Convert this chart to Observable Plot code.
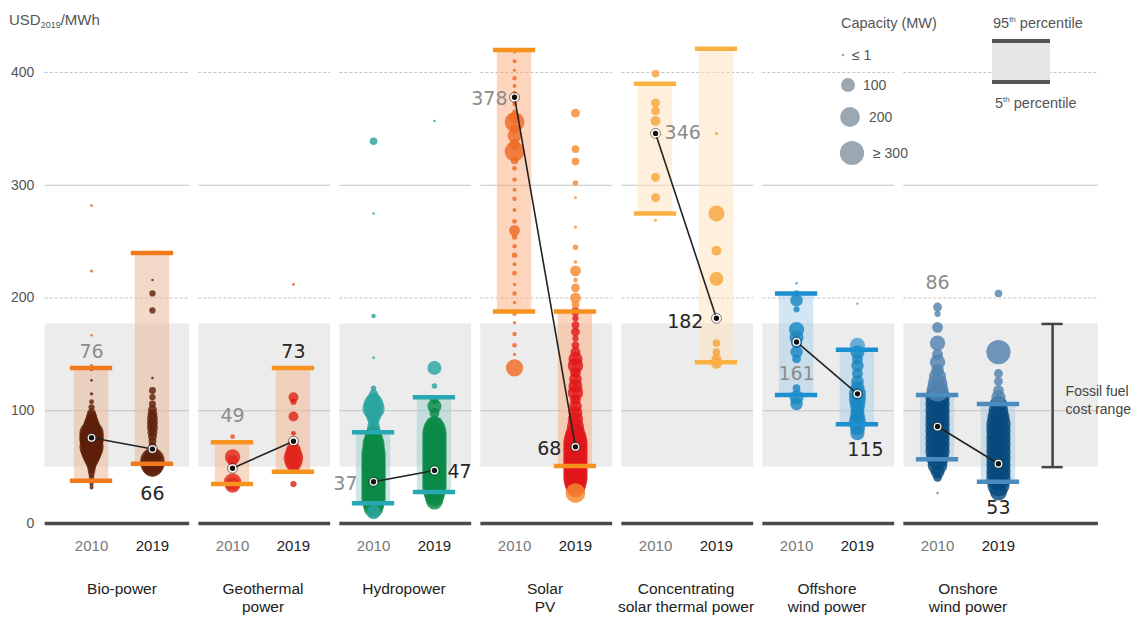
<!DOCTYPE html>
<html><head><meta charset="utf-8">
<script src="https://cdn.jsdelivr.net/npm/d3@7"></script>
<script src="https://cdn.jsdelivr.net/npm/@observablehq/plot@0.6"></script>
<style>body{margin:0;background:#fff;} svg{display:block;}</style>
</head><body><div id="chart"></div><script>
// ---------- DATA ----------
const categories = ["Bio-power", "Geothermal\npower", "Hydropower", "Solar\nPV", "Concentrating\nsolar thermal power", "Offshore\nwind power", "Onshore\nwind power"];
const years = [2010, 2019];
const yTicks = [0, 100, 200, 300, 400];
const median2010 = [76, 49, 37, 378, 346, 161, 86];
const median2019 = [66, 73, 47, 68, 182, 115, 53];
const p5_2010  = [38, 35, 18, 188, 275, 114, 57];
const p95_2010 = [138, 72, 81, 420, 390, 204, 114];
const p5_2019  = [53, 46, 28, 51, 143, 88, 37];
const p95_2019 = [240, 138, 112, 188, 421, 154, 106];
const fossilRange = [50, 177];
const capLegend = [1, 100, 200, 300];
const capLegendLabels = ["≤ 1", "100", "200", "≥ 300"];

// project points: [cost USD/MWh, capacity MW]
const bio2010 = [[282,4],[224,5],[167,3],[140,6],[137,8],[127,4],[115,6],[108,12],[103,20],[98,40],[95,60],[92,80],[89,120],[86,150],[83,200],[80,300],[77,300],[74,300],[71,250],[68,300],[65,250],[62,200],[59,150],[56,100],[53,60],[50,40],[47,30],[44,20],[41,15],[38,12],[35,10],[32,8]];
const bio2019 = [[240,10],[216,3],[204,20],[189,20],[129,4],[118,25],[112,20],[106,25],[101,40],[97,50],[93,60],[89,60],[85,60],[81,50],[77,40],[73,30],[69,30],[65,40],[60,150],[56,300],[53,300],[50,200]];
const geo2010 = [[77,12],[59,120],[56,60],[37,150],[34,120]];
const geo2019 = [[212,4],[112,50],[108,20],[95,50],[80,12],[66,100],[62,150],[58,200],[54,150],[50,60],[35,20]];
const hydro2010 = [[339,30],[275,3],[184,10],[147,4],[120,15],[115,40],[110,100],[106,200],[102,250],[98,150],[94,100],[90,60],[86,80],[82,100],[78,150],[74,200],[70,250],[66,250],[62,300],[58,300],[54,300],[50,300],[46,300],[42,300],[38,300],[34,300],[30,300],[26,300],[22,300],[18,250],[14,200],[10,100]];
const hydro2019 = [[357,3],[138,100],[122,15],[110,40],[104,100],[98,50],[88,150],[84,250],[80,300],[76,300],[72,300],[68,300],[64,300],[60,300],[56,300],[52,300],[48,300],[44,300],[40,300],[36,300],[32,300],[28,250],[24,200],[20,150]];
const solar2010 = [[418,4],[410,8],[402,5],[395,10],[388,8],[382,8],[372,10],[365,12],[360,60],[356,200],[350,40],[344,100],[336,60],[330,200],[322,30],[315,12],[305,10],[296,8],[288,10],[278,8],[268,12],[260,60],[254,15],[246,10],[238,15],[230,8],[222,12],[212,6],[204,10],[196,6],[186,10],[178,6],[168,10],[158,12],[150,6],[138,150]];
const solar2019 = [[364,40],[332,30],[321,30],[302,15],[289,4],[263,5],[245,15],[232,6],[224,60],[216,10],[209,40],[200,60],[194,30],[188,40],[182,20],[176,30],[170,40],[164,20],[158,30],[152,50],[146,100],[140,120],[134,60],[128,80],[122,100],[116,120],[110,60],[104,80],[98,100],[92,120],[86,150],[80,200],[76,250],[72,300],[68,300],[64,300],[60,300],[56,300],[52,300],[48,300],[44,300],[40,300],[36,250],[32,200],[27,200]];
const csp2010 = [[399,30],[373,40],[366,40],[357,50],[307,40],[289,40],[269,5]];
const csp2019 = [[346,5],[275,130],[242,50],[217,100],[160,30],[152,30],[146,50],[142,60]];
const offshore2010 = [[213,4],[204,20],[198,80],[190,20],[172,120],[165,100],[160,60],[152,80],[146,40],[120,30],[112,100],[106,80]];
const offshore2019 = [[195,3],[158,120],[152,100],[146,60],[140,80],[133,60],[126,80],[120,100],[115,150],[110,150],[105,120],[100,100],[95,120],[90,150],[85,120],[80,100]];
const onshore2010 = [[192,40],[186,20],[174,60],[160,120],[150,60],[143,120],[136,80],[130,150],[124,200],[118,250],[112,300],[106,300],[100,300],[94,300],[88,300],[82,300],[76,300],[70,300],[64,300],[58,250],[52,200],[46,100],[41,40],[27,3]];
const onshore2019 = [[204,30],[152,300],[133,40],[126,40],[118,60],[112,100],[106,150],[100,200],[94,250],[88,300],[82,300],[76,300],[70,300],[64,300],[58,300],[52,300],[46,300],[40,300],[34,250],[28,150]];

const points2010 = [bio2010, geo2010, hydro2010, solar2010, csp2010, offshore2010, onshore2010];
const points2019 = [bio2019, geo2019, hydro2019, solar2019, csp2019, offshore2019, onshore2019];

// ---------- STYLES / LAYOUT ----------
const coreColor = {2010: ["#5e200a","#e2281b","#0b8a47","#ee6a25","#f7a53c","#1a86c1","#064b7e"],
                   2019: ["#5e200a","#e2231a","#0b8a47","#e0161b","#f7a53c","#1a86c1","#064b7e"]};
const outerColor = ["#cf6a2e","#e8562a","#2aa3a0","#f58a2e","#f7a53c","#4d9fd2","#5283ae"];
const bandColor = ["#e7b591","#f1b38d","#9fcdcd","#f9ab79","#fde1b9","#a5cde7","#adc9df"];
const barColor = ["#f07a1c","#f7931e","#27a8b2","#f7921e","#fbb042","#1b8fcf","#4a8cc0"];
const OFF = 0.216;
const PX = 141; // pixels per category unit
const xc = (i, yr) => i + (yr === 2010 ? -OFF : OFF);
const panelLeft = i => i === 0 ? -0.545 : i - 0.455;
const panelRight = i => i === 6 ? 6.925 : i + 0.48;
const lab2010 = [{y:152,a:"middle",dx:0},{y:95,a:"middle",dx:0},{y:35,a:"end",dx:-16},{y:377,a:"end",dx:-7},{y:346,a:"start",dx:9},{y:133,a:"middle",dx:0},{y:213,a:"middle",dx:0}];
const lab2019 = [{y:26,a:"middle",dx:0},{y:152,a:"middle",dx:0},{y:46,a:"start",dx:13},{y:66,a:"end",dx:-14},{y:179,a:"end",dx:-13},{y:65,a:"middle",dx:8},{y:14,a:"middle",dx:0}];

// ---------- TABLES ----------
const panels = categories.map((c, i) => ({i, c}));
const stats = [];
categories.forEach((c, i) => {
  stats.push({i, year: 2010, med: median2010[i], p5: p5_2010[i], p95: p95_2010[i], lab: lab2010[i]});
  stats.push({i, year: 2019, med: median2019[i], p5: p5_2019[i], p95: p95_2019[i], lab: lab2019[i]});
});
const dots = [];
stats.forEach(s => {
  const pts = s.year === 2010 ? points2010[s.i] : points2019[s.i];
  pts.forEach(([cost, cap]) => dots.push({i: s.i, year: s.year, cost, cap,
    color: (cost >= s.p5 * 0.6 && cost <= s.p95 + 1) ? coreColor[s.year][s.i] : outerColor[s.i]}));
});
dots.sort((a, b) => b.cap - a.cap);
const links = categories.map((c, i) => ({i, a: median2010[i], b: median2019[i]}));
const grid = [];
panels.forEach(p => yTicks.filter(v => v > 0).forEach(v => grid.push({i: p.i, v})));
const yearRows = [];
panels.forEach(p => years.forEach(yr => yearRows.push({i: p.i, yr})));

const FONT = "'Liberation Sans', Arial, sans-serif";
const NUMFONT = "'DejaVu Sans', sans-serif";
const IX = 6.6;

const plot = Plot.plot({
  width: 1142, height: 617,
  marginLeft: 36.9, marginRight: 12.35, marginTop: 26.9, marginBottom: 94,
  x: {domain: [-0.6, 7.15], axis: null},
  y: {domain: [0, 440], axis: null},
  r: {type: "sqrt", domain: [0, 300], range: [0, 12.1], clamp: true},
  color: {type: "identity"},
  style: {fontFamily: FONT, background: "#fff"},
  marks: [
    Plot.rect(panels, {x1: d => panelLeft(d.i), x2: d => panelRight(d.i), y1: fossilRange[0], y2: fossilRange[1], fill: "#ececec"}),
    Plot.ruleY(grid.filter(d => d.v % 200 === 100), {y: "v", x1: d => panelLeft(d.i), x2: d => panelRight(d.i), stroke: "#c4c4c4", strokeWidth: 1.2}),
    Plot.ruleY(grid.filter(d => d.v % 200 === 0), {y: "v", x1: d => panelLeft(d.i), x2: d => panelRight(d.i), stroke: "#c4c4c4", strokeWidth: 1.2, strokeDasharray: "3,2"}),
    Plot.rect(stats, {x1: d => xc(d.i, d.year) - 0.122, x2: d => xc(d.i, d.year) + 0.122, y1: "p5", y2: "p95", fill: d => bandColor[d.i], fillOpacity: 0.5}),
    Plot.dot(dots, {x: d => xc(d.i, d.year), y: "cost", r: "cap", fill: "color", fillOpacity: 0.82}),
    Plot.ruleY(stats, {y: "p95", x1: d => xc(d.i, d.year) - 0.15, x2: d => xc(d.i, d.year) + 0.15, stroke: d => barColor[d.i], strokeWidth: 4.5}),
    Plot.ruleY(stats, {y: "p5", x1: d => xc(d.i, d.year) - 0.15, x2: d => xc(d.i, d.year) + 0.15, stroke: d => barColor[d.i], strokeWidth: 4.5}),
    Plot.link(links, {x1: d => xc(d.i, 2010), y1: "a", x2: d => xc(d.i, 2019), y2: "b", stroke: "#222", strokeWidth: 1.6}),
    Plot.dot(stats, {x: d => xc(d.i, d.year), y: "med", r: 5, fill: "none", stroke: "#333", strokeWidth: 1, strokeOpacity: 0.6}),
    Plot.dot(stats, {x: d => xc(d.i, d.year), y: "med", r: 3.3, fill: "#111", stroke: "#fff", strokeWidth: 1.2}),
    ...["middle", "start", "end"].map(a => Plot.text(stats.filter(d => d.lab.a === a), {
      x: d => xc(d.i, d.year) + d.lab.dx / PX, y: d => d.lab.y, text: d => String(d.med),
      textAnchor: a, fontSize: 19, fontFamily: NUMFONT,
      fill: d => d.year === 2010 ? "#8c8c8c" : "#262626"
    })),
    Plot.ruleY(panels, {y: 0, x1: d => panelLeft(d.i), x2: d => panelRight(d.i), stroke: "#4a4a4a", strokeWidth: 3.5}),
    Plot.axisY({ticks: yTicks, tickSize: 0, tickPadding: 3, fontSize: 14, fill: "#555", label: null}),
    Plot.text(yearRows, {x: d => xc(d.i, d.yr), y: 0, dy: 23, text: d => String(d.yr), fontSize: 15,
      fill: d => d.yr === 2010 ? "#777" : "#222", fontWeight: d => d.yr === 2010 ? "normal" : "bold"}),
    Plot.text(panels, {x: "i", y: 0, dy: 57, text: "c", fontSize: 15.5, lineAnchor: "top", lineHeight: 1.18, fill: "#222"}),
    Plot.ruleX([fossilRange], {x: IX, y1: d => d[0], y2: d => d[1], stroke: "#444", strokeWidth: 2.5}),
    Plot.ruleY(fossilRange, {y: d => d, x1: IX - 0.075, x2: IX + 0.075, stroke: "#444", strokeWidth: 2.5}),
    Plot.text(["Fossil fuel\ncost range"], {x: IX, y: 110, dx: 13, text: d => d, textAnchor: "start", fontSize: 14, fill: "#444", lineHeight: 1.3})
  ]
});
document.getElementById("chart").appendChild(plot);

const svg = d3.select(plot);
const rs = plot.scale("r");
const addText = (x, y, size) => svg.append("text").attr("x", x).attr("y", y).attr("font-size", size)
  .attr("fill", "#555").attr("font-family", FONT).attr("text-anchor", "start");
// unit title
const t = addText(9, 25, 15);
t.append("tspan").text("USD");
t.append("tspan").attr("font-size", 9).attr("dy", 3).text("2019");
t.append("tspan").attr("dy", -3).text("/MWh");
// capacity legend
addText(841, 28, 14.5).text("Capacity (MW)");
const lg = [[843, 55, 852], [848, 85, 863], [850, 117, 869], [852, 153, 873]];
capLegend.forEach((v, k) => {
  const [cx, cy, tx] = lg[k];
  svg.append("circle").attr("cx", cx).attr("cy", cy).attr("r", Math.max(1.3, rs.apply(v))).attr("fill", "#9aa8b4");
  addText(tx, cy, 14).attr("dy", "0.35em").text(capLegendLabels[k]);
});
// percentile legend
const pt = addText(993, 28, 14.5);
pt.append("tspan").text("95");
pt.append("tspan").attr("font-size", 8).attr("dy", -6).text("th");
pt.append("tspan").attr("dy", 6).text(" percentile");
svg.append("rect").attr("x", 992).attr("y", 41).attr("width", 58).attr("height", 41).attr("fill", "#e6e6e6");
[41, 82].forEach(y => svg.append("line").attr("x1", 992).attr("x2", 1050).attr("y1", y).attr("y2", y).attr("stroke", "#555").attr("stroke-width", 4));
const pb = addText(995, 108, 14.5);
pb.append("tspan").text("5");
pb.append("tspan").attr("font-size", 8).attr("dy", -6).text("th");
pb.append("tspan").attr("dy", 6).text(" percentile");
</script></body></html>
